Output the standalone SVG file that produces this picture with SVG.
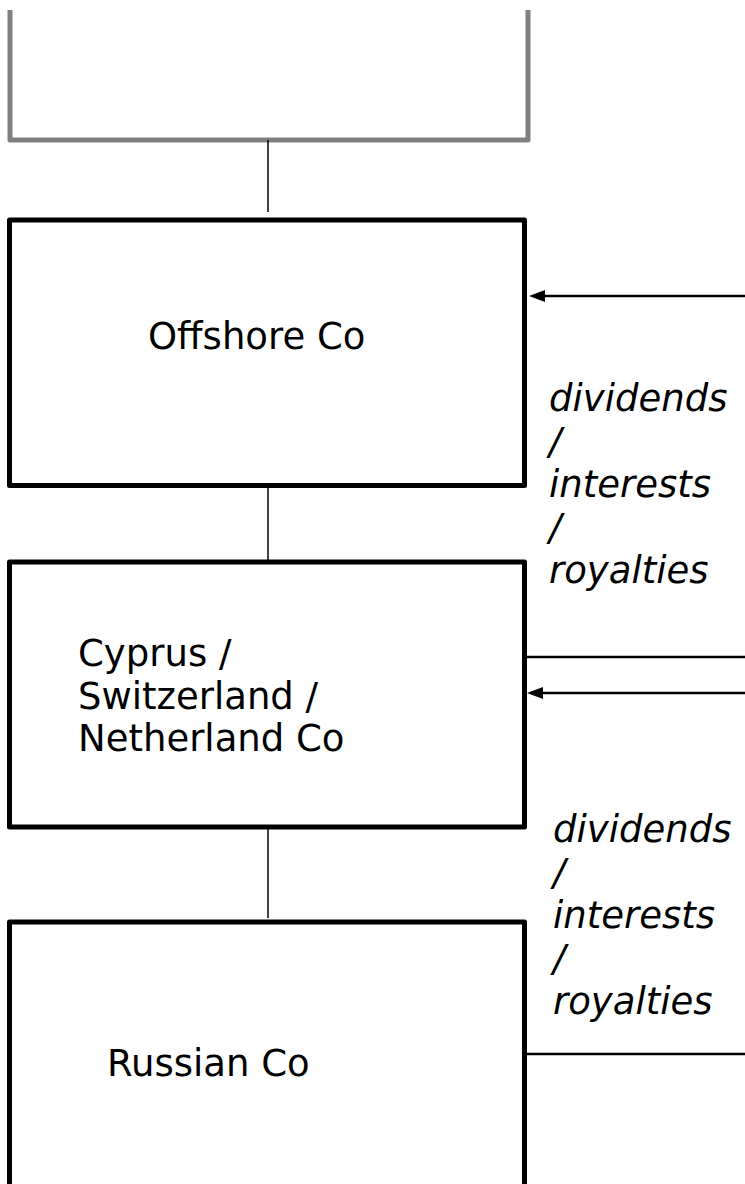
<svg xmlns="http://www.w3.org/2000/svg" width="745" height="1184" viewBox="0 0 745 1184">
<style>
.box{fill:#fff;stroke:#000;stroke-width:5;stroke-linejoin:round}
.t{font-family:"DejaVu Sans",Verdana,sans-serif;font-size:37px;fill:#000}
.i{font-family:"DejaVu Sans",Verdana,sans-serif;font-size:37px;font-style:italic;fill:#000}
.c{stroke:#000;stroke-width:1.5;fill:none}
.f{stroke:#000;stroke-width:2.5;fill:none}
</style>
<defs>
<marker id="ah" viewBox="0 0 16 12" refX="0" refY="6" markerWidth="16" markerHeight="12" markerUnits="userSpaceOnUse" orient="auto">
<path d="M0,0 L16,6 L0,12 z" fill="#000"/>
</marker>
</defs>
<g id="top-box">
<path d="M10,10 L10,140 L528,140 L528,10" fill="#fff" stroke="#808080" stroke-width="5" stroke-linejoin="round" stroke-linecap="butt"/>
</g>
<g id="connectors">
<line class="c" x1="268" y1="140" x2="268" y2="212"/>
<line class="c" x1="268" y1="486" x2="268" y2="562"/>
<line class="c" x1="268" y1="827" x2="268" y2="918"/>
<line class="f" x1="745" y1="296" x2="545" y2="296" marker-end="url(#ah)"/>
<line class="f" x1="527" y1="657" x2="745" y2="657"/>
<line class="f" x1="745" y1="693" x2="543" y2="693" marker-end="url(#ah)"/>
<line class="f" x1="527" y1="1054" x2="745" y2="1054"/>
</g>
<g id="offshore">
<rect class="box" x="9.5" y="220" width="515" height="265.5"/>
<text class="t" x="148" y="349">Offshore Co</text>
</g>
<g id="cyprus">
<rect class="box" x="9.5" y="562" width="515" height="265"/>
<text class="t" x="78" y="666">Cyprus /</text>
<text class="t" x="78" y="709">Switzerland /</text>
<text class="t" x="78" y="751">Netherland Co</text>
</g>
<g id="russian">
<rect class="box" x="9.5" y="922" width="515" height="300"/>
<text class="t" x="107" y="1076">Russian Co</text>
</g>
<g id="label-1">
<text class="i" x="549" y="411">dividends</text>
<text class="i" x="549" y="454">/</text>
<text class="i" x="549" y="497">interests</text>
<text class="i" x="549" y="540">/</text>
<text class="i" x="549" y="583">royalties</text>
</g>
<g id="label-2">
<text class="i" x="553" y="842">dividends</text>
<text class="i" x="553" y="885">/</text>
<text class="i" x="553" y="928">interests</text>
<text class="i" x="553" y="971">/</text>
<text class="i" x="553" y="1014">royalties</text>
</g>
</svg>
